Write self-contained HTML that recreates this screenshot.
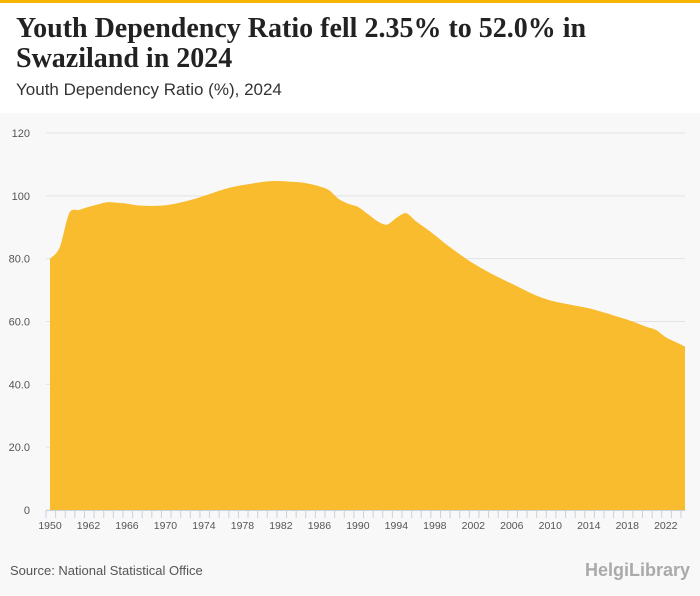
<!DOCTYPE html>
<html><head><meta charset="utf-8"><style>
body{margin:0;width:700px;height:596px;overflow:hidden;background:#fff;font-family:"Liberation Sans",sans-serif;position:relative}
#top{position:absolute;left:0;top:0;width:700px;height:3px;background:#f6b300}
#title{position:absolute;left:16px;top:14px;font:bold 28px/30px "Liberation Serif",serif;color:#222;width:610px}
#sub{position:absolute;left:16px;top:80px;font:17px "Liberation Sans",sans-serif;color:#333}
#chartbg{position:absolute;left:0;top:113px;width:700px;height:483px;background:#f8f8f8}
#src{position:absolute;left:10px;top:563px;font:13px "Liberation Sans",sans-serif;color:#555}
#logo{position:absolute;right:10px;top:560px;font:bold 18px "Liberation Sans",sans-serif;color:#aaa}
svg{position:absolute;left:0;top:0}
</style></head><body>
<div id="top"></div>
<div id="title">Youth Dependency Ratio fell 2.35% to 52.0% in Swaziland in 2024</div>
<div id="sub">Youth Dependency Ratio (%), 2024</div>
<div id="chartbg"></div>
<svg id="chart" width="700" height="596"></svg>
<div id="src">Source: National Statistical Office</div>
<div id="logo">HelgiLibrary</div>
<script>
const years=[];for(let y=1958;y<=2024;y++)years.push(y);
const values=[80,83.5,94.5,95.5,96.5,97.3,98,97.8,97.5,97,96.8,96.8,97,97.5,98.2,99,100,101,102,102.8,103.4,103.9,104.4,104.7,104.7,104.5,104.3,103.8,103,101.8,99,97.5,96.5,94.3,92,90.8,93,94.5,92,89.8,87.5,85,82.7,80.5,78.5,76.7,75,73.5,72,70.5,69,67.7,66.7,66,65.4,64.8,64.2,63.4,62.5,61.5,60.6,59.5,58.3,57.3,55,53.5,52];
const yTicks=[0,20,40,60,80,100,120];
const yTickLabels=["0","20.0","40.0","60.0","80.0","100","120"];
const xTickIdx=[0,4,8,12,16,20,24,28,32,36,40,44,48,52,56,60,64];
const xTickLabels=["1950","1962","1966","1970","1974","1978","1982","1986","1990","1994","1998","2002","2006","2010","2014","2018","2022"];
const svg=document.getElementById('chart');const NS='http://www.w3.org/2000/svg';
const X0=50,X1=685,Y0=510,Y1=133;
const xs=i=>X0+(X1-X0)*i/(years.length-1);
const ys=v=>Y0-(Y0-Y1)*v/120;
function mk(t,a){const e=document.createElementNS(NS,t);for(const k in a)e.setAttribute(k,a[k]);svg.appendChild(e);return e;}
yTicks.forEach((v,i)=>{
 const g=mk('line',{x1:X0-4,x2:X1,y1:ys(v),y2:ys(v),stroke:'#e3e3e3','stroke-width':1});
 
 
 const t=mk('text',{x:30,y:ys(v)+4,'text-anchor':'end','font-size':11,fill:'#555','font-family':'Liberation Sans'});
 t.textContent=yTickLabels[i];
 
 
});
let d='M'+xs(0)+','+ys(values[0]);
for(let i=0;i<values.length-1;i++){
 const p0=[xs(Math.max(i-1,0)),ys(values[Math.max(i-1,0)])],p1=[xs(i),ys(values[i])],p2=[xs(i+1),ys(values[i+1])],p3=[xs(Math.min(i+2,values.length-1)),ys(values[Math.min(i+2,values.length-1)])];
 const k=0.15;
 d+=` C${p1[0]+(p2[0]-p0[0])*k},${p1[1]+(p2[1]-p0[1])*k} ${p2[0]-(p3[0]-p1[0])*k},${p2[1]-(p3[1]-p1[1])*k} ${p2[0]},${p2[1]}`;
}
d+=` L${xs(values.length-1)},${Y0} L${xs(0)},${Y0} Z`;
const a=mk('path',{d:d,fill:'#f9bc2e'});


const ax=mk('line',{x1:X0-4,x2:X1,y1:Y0+0.5,y2:Y0+0.5,stroke:'#c8d0e0'});


years.forEach((y,i)=>{
 const tk=mk('line',{x1:xs(i)-4,x2:xs(i)-4,y1:Y0,y2:Y0+8,stroke:'#c8d0e0'});
 
 
});
xTickIdx.forEach((idx,i)=>{
 const t=mk('text',{x:xs(idx),y:529,'text-anchor':'middle','font-size':10.5,fill:'#555','font-family':'Liberation Sans'});
 t.textContent=xTickLabels[i];
 
 
});
</script>
</body></html>
